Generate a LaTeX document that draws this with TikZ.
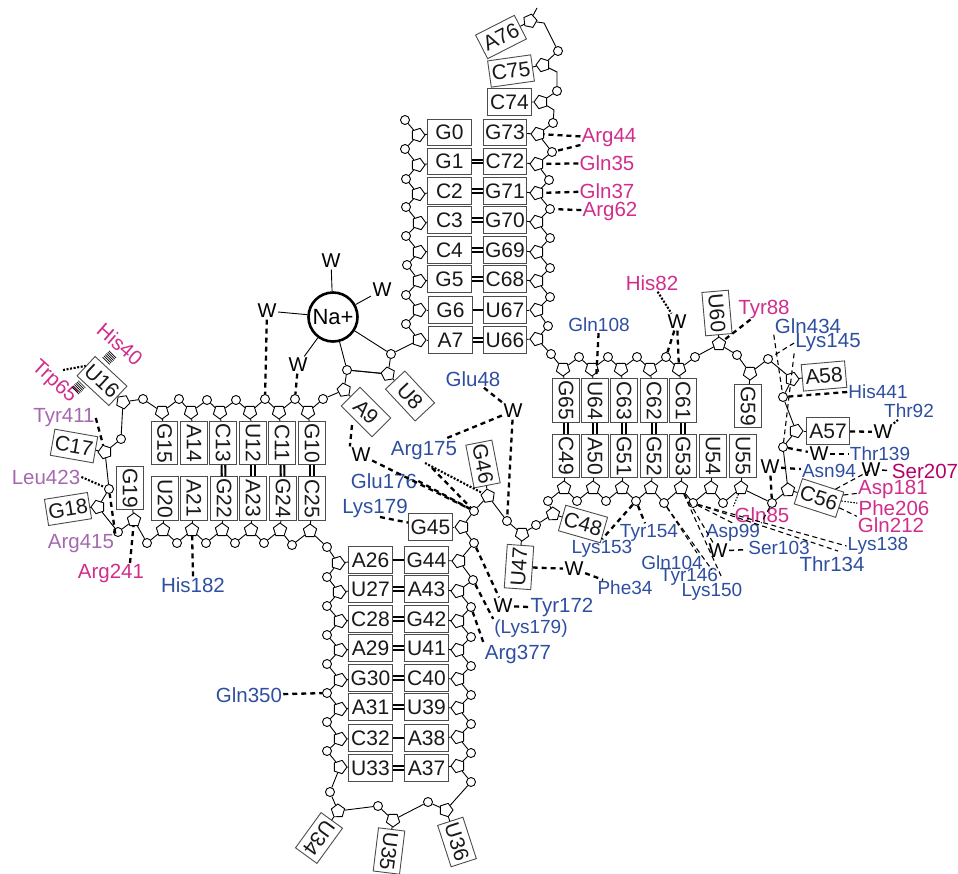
\documentclass[tikz,border=0pt]{standalone}
\usepackage{fontspec}
\setmainfont{Liberation Sans}
\usetikzlibrary{shapes.geometric}
\definecolor{magentalab}{RGB}{208,45,140}
\definecolor{bluelab}{RGB}{46,78,160}
\definecolor{purplelab}{RGB}{165,105,175}
\definecolor{serlab}{RGB}{178,0,110}
\tikzset{
  base/.style={draw=black!70,line width=0.9pt,fill=white,minimum width=43.5pt,minimum height=26.5pt,inner sep=0pt,font=\fontsize{21}{21}\selectfont,text=black!90},
  vbase/.style={base,rotate=-90},
  sugar/.style={regular polygon,regular polygon sides=5,draw,line width=0.9pt,fill=white,minimum size=14pt,inner sep=0pt},
  phos/.style={circle,draw,line width=0.9pt,fill=white,minimum size=9pt,inner sep=0pt},
  back/.style={line width=0.9pt},
  pairtwo/.style={line width=2.1pt,double=white,double distance=1.6pt},
  pairone/.style={line width=2.6pt},
  hb/.style={line width=2.3pt,dash pattern=on 5pt off 4pt},
  hbmid/.style={line width=1.5pt,dash pattern=on 5pt off 4pt},
  hbdot/.style={line width=2.1pt,dash pattern=on 2pt off 1.6pt},
  thinb/.style={line width=1.1pt,dash pattern=on 5pt off 3.5pt},
  thind/.style={line width=1.1pt,dash pattern=on 1.5pt off 1.5pt},
  stack/.style={line width=10pt,dash pattern=on 0.7pt off 1.1pt},
  lab/.style={inner sep=1pt,font=\fontsize{19}{19}\selectfont},
  maglab/.style={lab,text=magentalab,font=\fontsize{20.5}{20.5}\selectfont},
  blulab/.style={lab,text=bluelab},
  biglab/.style={lab,text=bluelab,font=\fontsize{20.5}{20.5}\selectfont},
  purlab/.style={lab,text=purplelab,font=\fontsize{20.5}{20.5}\selectfont},
  water/.style={inner sep=1.5pt,font=\fontsize{20}{20}\selectfont}
}
\begin{document}
\begin{tikzpicture}[x=1pt,y=-1pt]
\useasboundingbox (0,0) rectangle (958,873);
% sugars, with the turn of the pentagon towards its base
\foreach\n\x\y\r in {G0/418/135/-90,G1/418/165/-90,C2/418/194/-90,C3/419/223/-90,C4/419/252/-90,G5/419/281/-90,G6/419/310/-90,A7/419/340/-90,
  U8/388/374/-135,A9/344/390/-135,G10/308/412/180,C11/279/412/180,U12/250/412/180,C13/220/412/180,A14/191/412/180,G15/162/412/180,U16/123/402/45,
  C17/105/452/90,G18/98/507/90,G19/134/520/0,U20/163/530/0,A21/192/530/0,G22/222/530/0,A23/251/530/0,G24/280/530/0,C25/310/531/0,
  A26/338/563/-90,U27/339/592/-90,C28/340/621/-90,A29/340/650/-90,G30/340/680/-90,A31/340/709/-90,C32/340/739/-90,U33/340/767/-90,
  U34/338/811/145,U35/393/820/180,U36/446/810/-162,A37/458/766/90,A38/458/737/90,U39/458/708/90,C40/458/679/90,U41/458/650/90,G42/458/621/90,
  A43/458/591/90,G44/459/561/90,G45/462/527/90,G46/488/496/10,U47/522/534/180,C48/553/514/-70,C49/564/488/0,A50/593/488/0,G51/622/488/0,
  G52/651/488/0,G53/681/488/0,U54/711/488/0,U55/741/488/0,C56/788/490/-70,A57/796/431/-90,A58/792/379/-90,G59/750/373/180,U60/719/344/0,
  C61/679/369/180,C62/650/369/180,C63/621/369/180,U64/592/369/180,G65/563/369/180,U66/537/339/90,U67/537/310/90,C68/537/281/90,G69/537/252/90,
  G70/537/222/90,G71/537/193/90,C72/537/164/90,G73/538/134/90,C74/541/102/90,C75/543/65/90,A76/530/21/60}
  {\node[sugar,shape border rotate=\r] (s\n) at (\x,\y) {};}
% phosphates
\foreach\n\x\y in {G0/405/120,G1/405/149,C2/406/179,C3/406/207,C4/406/236,G5/407/265,G6/406/295,A7/406/324,
  U8/391/354,A9/347/370,G10/323/399,C11/295/399,U12/265/399,C13/236/400,A14/207/400,G15/179/399,U16/143/399,
  C17/121/439,G18/109/489,G19/118/532,U20/147/543,A21/177/543,G22/206/543,A23/235/543,G24/264/543,C25/292/545,
  A26/327/547,U27/327/577,C28/327/606,A29/327/635,G30/327/664,A31/327/693,C32/327/722,U33/327/751,
  U34/330/792,U35/378/806,U36/428/802,A37/471/782,A38/471/753,U39/471/724,C40/471/695,U41/471/666,G42/471/637,
  A43/471/607,G44/473/580,G45/474/543,G46/474/511,U47/507/521,C48/536/525,C49/548/501,A50/577/501,G51/606/501,
  G52/636/501,G53/664/503,U54/693/503,U55/723/503,C56/772/503,A57/783/447,A58/783/397,G59/768/359,U60/737/355,
  C61/695/357,C62/666/357,C63/637/357,U64/608/357,G65/579/357,U66/551/354,U67/548/326,C68/550/297,G69/550/268,
  G70/550/238,G71/550/209,C72/549/180,G73/552/152,C74/553/123,C75/557/91,A76/558/51}
  {\node[phos] (p\n) at (\x,\y) {};}
\coordinate (tail) at (537,8);
\coordinate (bendA) at (544,23);
\coordinate (bendB) at (557,72);
\coordinate (bendC) at (554,110);
% boxes
\foreach\t\x\y in {G0/449.5/132.5,G1/449.5/161.5,C2/449.5/191,C3/449.5/220,C4/449.5/250,G5/449.5/279,G6/450.5/310,A7/450.5/340,
  G73/505/132.5,C72/505/161.5,G71/505/191,G70/505/220,G69/505/250,C68/505/279,U67/505/310,U66/505/340,C74/509.5/102,
  A26/370.5/560,U27/370.5/589,C28/370.5/619,A29/370.5/648,G30/370.5/678,A31/370.5/707,C32/370.5/738,U33/370.5/768,
  G44/426.5/560,A43/426.5/589,G42/426.5/619,U41/426.5/648,C40/426.5/678,U39/426.5/707,A38/426.5/738,A37/426.5/768,
  G45/430.5/527,A57/828/431}
  {\node[base] (b\t) at (\x,\y) {\t};}
\foreach\t\x\y in {G15/164.5/443,A14/194/443,C13/223/443,U12/253/443,C11/282/443,G10/312/443,
  U20/165/498.5,A21/194/498.5,G22/224/498.5,A23/253/498.5,G24/283/498.5,C25/312/498.5,G19/130/488,
  G65/566/400.5,U64/595/400.5,C63/624/400.5,C62/654/400.5,C61/683/400.5,
  C49/566/456,A50/595/456,G51/624/456,G52/654/456,G53/683/456,U54/713/456,U55/743/456,G59/748/406}
  {\node[vbase] (b\t) at (\x,\y) {\t};}
\foreach\t\x\y\r in {A76/501/37/27,C75/511/71/8,U16/102/381/-43,C17/74/446/-10,G18/68/509/9,U8/410/396/-47,A9/366/412/-45,
  G46/483/464/-79,U47/519/567/86,C48/583/524/-16,C56/819/498/-18,A58/824/376/5,U60/717/313/-85,
  U34/319/838/-126,U35/389/851/-97,U36/457/842/-72}
  {\node[base,rotate=\r] (b\t) at (\x,\y) {\t};}
% backbone, one step per pair
\foreach\a\b in {G0/G1,G1/C2,C2/C3,C3/C4,C4/G5,G5/G6,G6/A7,A7/U8,U8/A9,A9/G10,G10/C11,C11/U12,U12/C13,C13/A14,A14/G15,G15/U16,
  U16/C17,C17/G18,G18/G19,G19/U20,U20/A21,A21/G22,G22/A23,A23/G24,G24/C25,C25/A26,A26/U27,U27/C28,C28/A29,A29/G30,G30/A31,
  A31/C32,C32/U33,U33/U34,U34/U35,U35/U36,U36/A37,A37/A38,A38/U39,U39/C40,C40/U41,U41/G42,G42/A43,A43/G44,G44/G45,G45/G46,
  G46/U47,U47/C48,C48/C49,C49/A50,A50/G51,G51/G52,G52/G53,G53/U54,U54/U55,U55/C56,C56/A57,A57/A58,A58/G59,G59/U60,U60/C61,
  C61/C62,C62/C63,C63/U64,U64/G65,G65/U66,U66/U67,U67/C68,C68/G69,G69/G70,G70/G71,G71/C72,C72/G73,G73/C74}
  {\draw[back] (p\a) -- (s\a) -- (p\b); \draw[back] (s\a) -- (b\a);}
\draw[back] (pC74) -- (bendC) -- (sC74) -- (bC74);
\draw[back] (sC74) -- (pC75) -- (bendB) -- (sC75) -- (bC75);
\draw[back] (sC75) -- (pA76) -- (bendA) -- (sA76) -- (bA76);
\draw[back] (sA76) -- (tail);
% sodium and waters
\node[circle,draw,line width=2.6pt,minimum size=49pt,inner sep=0pt,font=\fontsize{22}{22}\selectfont] (Na) at (333,317) {Na+};
\foreach\n\x\y in {Wa/331/261,Wb/382/290,Wc/267/311,Wd/298/365,We/513/411,Wf/361/455,Wg/503/606,Wh/574/569,Wi/718/551,
  Wj/677/322,Wk/883/432,Wl/819/454,Wm/770/467,Wn/871/470}
  {\node[water] (\n) at (\x,\y) {W};}
\foreach\w in {Wa,Wb,Wc,Wd}
  {\draw[back] (Na) -- (\w);}
\draw[back] (Na) -- (pA9);
\draw[back] (Na) -- (pU8);
\draw[back] (pA9) -- (sU8);
% labels
\foreach\n\t\x\y in {a/Arg44/609/138,b/Gln35/607/163,c/Gln37/607/191,d/Arg62/610/211,e/His82/652/283,f/Tyr88/764/309,
  g/Gln85/762/515,h/Asp181/893/489,i/Phe206/894/508,j/Gln212/891/525,k/Arg241/111/573}
  {\node[maglab] (L\n) at (\x,\y) {\t};}
\node[maglab,rotate=-41] (Lhis) at (120,344) {His40};
\node[maglab,rotate=-42] (Ltrp) at (54,382) {Trp65};
\node[maglab,text=serlab] (Lser) at (925,471) {Ser207};
\foreach\n\t\x\y in {Tyrb/Tyr411/64/418,Leu/Leu423/46/477,Argb/Arg415/81/544}
  {\node[purlab] (L\n) at (\x,\y) {\t};}
\foreach\n\t\x\y in {Glnc/Gln108/599/325,Hise/His441/878/392,Thrb/Thr92/909/411,Thrc/Thr139/880/454,Asn/Asn94/829/471,
  Lysb/Lys138/878/546,Serb/Ser103/779/548,Asp/Asp99/733/533,Tyrc/Tyr154/649/533,Lysc/Lys153/602/549,Glnd/Gln104/672/563,
  Tyrd/Tyr146/689/577,Lysd/Lys150/712/592,Phe/Phe34/625/588,Lyse/(Lys179)/531/629}
  {\node[blulab] (L\n) at (\x,\y) {\t};}
\foreach\n\t\x\y in {Glne/Gln434/808/326,Lysf/Lys145/828/343,Thrd/Thr134/832/564,Tyre/Tyr172/562/607,Arge/Arg377/518/654,
  Glu/Glu48/473/379,Argf/Arg175/424/451,Glug/Glu176/384/481,Lysg/Lys179/375/508,Hisf/His182/193/585,Glnf/Gln350/249/695}
  {\node[biglab] (L\n) at (\x,\y) {\t};}
% base pairs
\foreach\a\b in {G1/C72,C2/G71,C3/G70,C4/G69,G5/C68,A7/U66,U27/A43,C28/G42,A29/U41,G30/C40,A31/U39,U33/A37,
  C13/G22,U12/A23,C11/G24,G10/C25,G65/C49,U64/A50,C63/G51,C62/G52,C61/G53}
  {\draw[pairtwo] (b\a) -- (b\b);}
\foreach\a\b in {G6/U67,A26/G44,C32/A38}
  {\draw[pairone] (b\a) -- (b\b);}
% free ends of the contacts
\coordinate (cArgk) at (130,563);
\coordinate (cThr) at (838,551);
\coordinate (cLys) at (722,578);
\coordinate (cGln) at (697,553);
\coordinate (cTyr) at (712,570);
\coordinate (cGlu) at (447,438);
\coordinate (cAnine) at (352,425);
\coordinate (cArgb) at (425,463);
\coordinate (cArgc) at (432,468);
\coordinate (cLysg) at (380,517);
\coordinate (cTrp) at (63,370);
\coordinate (hisa) at (106,361);
\coordinate (hisb) at (113,354);
\coordinate (trpa) at (82,384);
\coordinate (trpb) at (75,391);
% contacts
\foreach\a\b in {La/sG73,La/pG73,Lb/sC72,Lc/sG71,Ld/pG71,Wc/pU12,Wd/pC11,LTyrb.east/sC17,LArgb.north east/pG18,cArgk/sG19,
  LHisf.north/sA21,Wj/pC62,Wj/sC61,Lf/sU60,LHise.west/pA58,bA57/Wk,pA57/Wl,Wl/LThrc,Wm/pC56,Wm/LAsn,pG52/LTyrc,pG52/LLysc.north,
  bU47/Wh,Wh/LPhe,LGlu/We,We/cGlu,We/pU47,cAnine/Wf.north west,Wf/pG46,cArgc/pG46,LGlug.east/pG46,cLysg/bG45,pG45/Wg,
  pG44/LLyse.north west,pA43/LArge.north west,Wg/LTyre.west,LGlnf/pA31,LGlnc/bU64}
  {\draw[hb] (\a) -- (\b);}
\foreach\a\b in {LLeu.east/pG18,cTrp/bU16.west,Le/Wj,Wk/LThrb,cArgb/sG46}
  {\draw[hbdot] (\a) -- (\b);}
\foreach\a\b in {Wn/Lser,Wi/LSerb}
  {\draw[hbmid] (\a) -- (\b);}
\foreach\a\b in {LGlne.south west/pA58,LLysf.south west/pA57,LLysf.west/pG59,bC56/Wn.center,bC56/Lh,bC56/Lj.north west,
  pU54/LLysb.west,pU54/cThr,pC56/LAsp.north east,pU54/LAsp.north,sG53/Wi,pG53/cGln,pG53/cTyr,sG53/cLys}
  {\draw[thinb] (\a) -- (\b);}
\foreach\a\b in {bC56/Li,sU55/Lg.north west}
  {\draw[thind] (\a) -- (\b);}
\draw[stack] (hisa) -- (hisb);
\draw[stack] (trpa) -- (trpb);
\end{tikzpicture}
\end{document}
